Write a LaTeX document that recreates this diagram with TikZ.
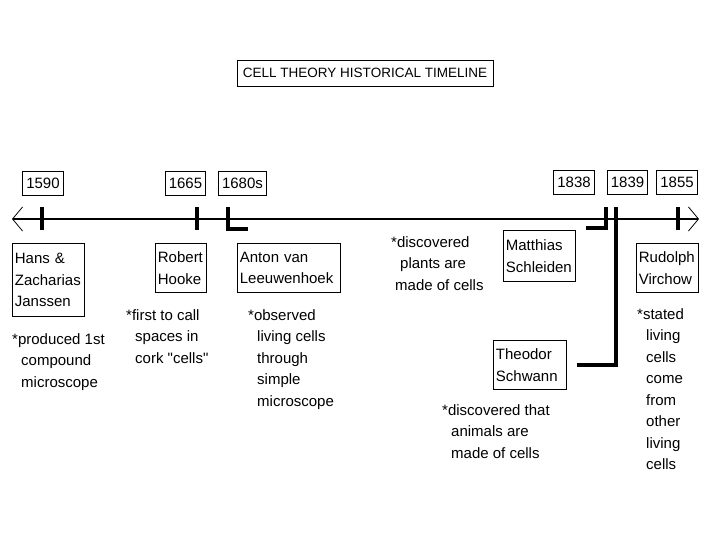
\documentclass[tikz,border=0pt]{standalone}
\usepackage{fontspec}
\setmainfont{Liberation Sans}
\usetikzlibrary{arrows.meta,positioning}

\tikzset{
  yearbox/.style={draw, line width=0.8pt, inner xsep=3.5pt, inner ysep=0pt,
    minimum height=24pt, font=\fontsize{15}{17}\selectfont},
  namebox/.style 2 args={draw, line width=0.8pt, anchor=north west,
    inner xsep=2.5pt, inner ysep=0pt, align=left, text width=#1,
    minimum height=#2, font=\fontsize{15}{21.5}\selectfont},
  notetext/.style={anchor=north west, inner sep=0pt, align=left,
    font=\fontsize{15}{21.5}\selectfont},
  tick/.style={line width=4pt},
  barb/.tip={Straight Barb[length=10pt,width=24pt,line width=0.8pt 0]}
}
\newcommand{\ind}{\hspace*{9pt}}

\begin{document}
\begin{tikzpicture}[x=1pt, y=-1pt]
  \useasboundingbox (0,0) rectangle (720,540);
  % title
  \node[draw, line width=0.8pt, minimum width=256pt, minimum height=26pt,
    font=\fontsize{13.5}{15}\selectfont] (title) at (365,73)
    {CELL THEORY HISTORICAL TIMELINE};
  % years
  \node[yearbox] (y1590) at (43,183) {1590};
  \node[yearbox] (y1665) at (185.5,183) {1665};
  \node[yearbox] (y1680) at (242.5,183) {1680s};
  \node[yearbox] (y1838) at (574,182.5) {1838};
  \node[yearbox] (y1839) at (627.5,182.5) {1839};
  \node[yearbox] (y1855) at (677,182.5) {1855};
  % timeline
  \coordinate (lineL) at (12,219);
  \coordinate (lineR) at (699,219);
  \draw[line width=1.6pt, barb-barb] (lineL) -- (lineR);
  % ticks
  \draw[tick] (42,207) -- (42,230);
  \draw[tick] (197,207) -- (197,230);
  \draw[tick] (228,207) -- (228,229) -- (248,229);
  \draw[tick] (606,207) -- (606,228) -- (586,228);
  \draw[tick] (678,207) -- (678,230);
  \coordinate (k1839) at (616,207);
  % scientists
  \node[namebox={67pt}{73pt}] (janssen) at (12,243) {Hans \&\\Zacharias\\Janssen};
  \node[namebox={46pt}{49pt}] (hooke) at (155,243) {Robert\\Hooke};
  \node[namebox={98pt}{49pt}] (leeuwen) at (237,243) {Anton van\\Leeuwenhoek};
  \node[namebox={67pt}{51pt}] (schleiden) at (503,230) {Matthias\\Schleiden};
  \node[namebox={57pt}{49pt}] (virchow) at (636,243) {Rudolph\\Virchow};
  \node[namebox={68pt}{49pt}] (schwann) at (493,340) {Theodor\\Schwann};
  \draw[tick] ([xshift=10pt]schwann.east) -| (k1839);
  % notes
  \node[notetext] (njanssen) at (12,333) {*produced 1st\\\ind compound\\\ind microscope};
  \node[notetext] (nhooke) at (126,309) {*first to call\\\ind spaces in\\\ind cork \textquotedbl cells\textquotedbl};
  \node[notetext] (nleeuwen) at (248,309) {*observed\\\ind living cells\\\ind through\\\ind simple\\\ind microscope};
  \node[notetext] (nschleiden) at (391,236) {*discovered\\\ind plants are\\\hspace*{4pt}made of cells};
  \node[notetext] (nschwann) at (442,404) {*discovered that\\\ind animals are\\\ind made of cells};
  \node[notetext] (nvirchow) at (637,308) {*stated\\\ind living\\\ind cells\\\ind come\\\ind from\\\ind other\\\ind living\\\ind cells};
\end{tikzpicture}
\end{document}
